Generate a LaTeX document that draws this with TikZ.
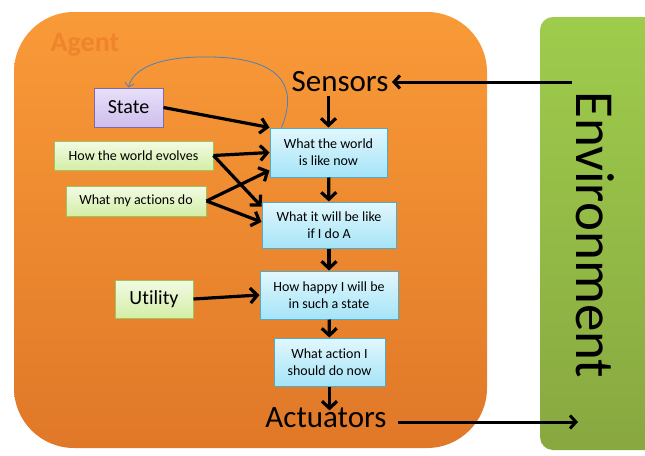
\documentclass[tikz,border=0pt]{standalone}
\usepackage{fontspec}
\setmainfont[Ligatures=NoCommon]{Carlito}
\usetikzlibrary{arrows.meta,calc}

\definecolor{agenttop}{RGB}{249,154,56}
\definecolor{agentbot}{RGB}{224,120,40}
\definecolor{agenttext}{RGB}{240,132,44}
\definecolor{envtop}{RGB}{158,204,76}
\definecolor{envbot}{RGB}{136,168,64}
\definecolor{bluetop}{RGB}{226,247,253}
\definecolor{bluebot}{RGB}{165,228,247}
\definecolor{blueline}{RGB}{80,170,200}
\definecolor{greentop}{RGB}{242,251,228}
\definecolor{greenbot}{RGB}{212,238,166}
\definecolor{greenline}{RGB}{160,195,95}
\definecolor{purpletop}{RGB}{232,224,248}
\definecolor{purplebot}{RGB}{206,190,236}
\definecolor{purpleline}{RGB}{130,105,175}
\definecolor{loopblue}{RGB}{70,130,190}

\begin{document}
\begin{tikzpicture}[x=1pt,y=-1pt,
    thinker/.style={draw=blueline,line width=1pt,top color=bluetop,bottom color=bluebot,
        align=center,inner sep=0pt,font=\fontsize{14}{17}\selectfont},
    knowbox/.style={draw=greenline,line width=1pt,top color=greentop,bottom color=greenbot,
        align=center,inner sep=0pt},
    flow/.style={line width=3.2pt,-{Straight Barb[length=7pt,width=15pt]}},
    outflow/.style={line width=3pt,-{Straight Barb[length=6pt,width=13pt]}}]
 \useasboundingbox (0,0) rectangle (645,455);

    % agent and environment
    \path[rounded corners=60pt,top color=agenttop,bottom color=agentbot]
        (14,12) rectangle (487,448);
    \node[text=agenttext,font=\fontsize{28}{30}\selectfont\bfseries] (agent) at (85,45) {Agent};
    \path[rounded corners=13pt,top color=envtop,bottom color=envbot]
        (540,17) rectangle (675,450);
    \node[rotate=-90,font=\fontsize{55}{58}\selectfont] (env) at (595,235) {Environment};

    % percepts and actions
    \node[font=\fontsize{31}{34}\selectfont] (sensors) at (340,82) {Sensors};
    \node[font=\fontsize{31}{34}\selectfont] (actuators) at (326,418) {Actuators};
    \coordinate (envin) at (572,82);
    \coordinate (envout) at (578,422);

    % knowledge
    \node[draw=purpleline,line width=1pt,top color=purpletop,bottom color=purplebot,
        minimum width=69pt,minimum height=39pt,inner sep=0pt,font=\fontsize{20}{22}\selectfont]
        (state) at (128.5,107.5) {State};
    \node[knowbox,minimum width=159pt,minimum height=29pt,font=\fontsize{14}{17}\selectfont]
        (evolves) at (133.5,155.5) {How the world evolves};
    \node[knowbox,minimum width=140pt,minimum height=30pt,font=\fontsize{14}{17}\selectfont]
        (actions) at (136,201) {What my actions do};
    \node[knowbox,minimum width=78pt,minimum height=38pt,font=\fontsize{20}{22}\selectfont]
        (utility) at (154,299) {Utility};

    % reasoning chain
    \node[thinker,minimum width=117pt,minimum height=49pt] (world) at (328.5,152.5) {What the world\\is like now};
    \node[thinker,minimum width=134pt,minimum height=46pt] (will) at (329,225) {What it will be like\\if I do A};
    \node[thinker,minimum width=138pt,minimum height=48pt] (happy) at (329,295) {How happy I will be\\in such a state};
    \node[thinker,minimum width=111pt,minimum height=48pt] (action) at (329.5,362) {What action I\\should do now};

    % arrows
    \draw[outflow] (envin) -- (sensors.east);
    \draw[flow] (sensors.south -| world.north) -- (world.north);
    \draw[flow] (state.east) -- (world.north west);
    \draw[flow] (evolves.east) -- (world.west);
    \draw[flow] (evolves.east) -- ([yshift=-5pt]will.north west);
    \draw[flow] (actions.east) -- ([yshift=7pt]world.south west);
    \draw[flow] (actions.east) -- ([yshift=3pt]will.west);
    \draw[flow] (world) -- (will);
    \draw[flow] (will) -- (happy);
    \draw[flow] (utility.east) -- (happy.west);
    \draw[flow] (happy) -- (action);
    \draw[flow] (action.south) -- ([yshift=-6pt]actuators.north -| action.south);
    \draw[outflow] ([xshift=8pt,yshift=-4pt]actuators.east) -- (envout);

    % state update loop
    \draw[loopblue,line width=0.8pt,-{Straight Barb[length=4pt,width=9pt]}]
        ([xshift=12pt]world.north west) .. controls (295,95) and (292,58) .. (210,57)
        .. controls (160,56) and (133,68) .. (state.north);
\end{tikzpicture}
\end{document}
